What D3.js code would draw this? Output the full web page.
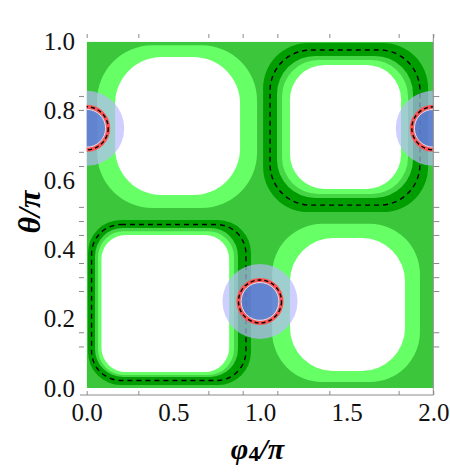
<!DOCTYPE html>
<html><head><meta charset="utf-8">
<script src="https://cdn.jsdelivr.net/npm/d3@7"></script>
<style>body{margin:0;background:#fff} svg{display:block}</style>
</head><body><svg id="c" width="450" height="474"></svg>
<script>
// ---- data (in axis units: x = phi4/pi, y = theta/pi) ----
const xTickValues = [0, 0.5, 1, 1.5, 2];
const yTickValues = [0, 0.2, 0.4, 0.6, 0.8, 1];
const xMinorTicks = [0, 0.298, 0.702, 0.9, 1.1, 1.4, 1.8, 2.0];
const yMinorTicks = [0.843, 0.803, 0.682, 0.641, 0.523, 0.482, 0.442, 0.361, 0.320, 0.280, 0.161, 0.120];

// contour regions: [x0, x1, y0, y1, corner radius (x units)]
const darkRegions  = [[0.0075, 0.948, 0.0087, 0.485, 0.19], [1.018, 1.970, 0.508, 0.996, 0.26]];
const midRegions   = [[0.048, 0.873, 0.032, 0.462, 0.16],   [1.098, 1.883, 0.549, 0.959, 0.22]];
const lightRegions = [[0.065, 0.850, 0.0375, 0.453, 0.15],  [1.127, 1.854, 0.560, 0.947, 0.21],
                      [0.060, 0.983, 0.520, 0.990, 0.32],   [1.070, 1.923, 0.017, 0.474, 0.29]];
const whiteRegions = [[0.085, 0.822, 0.046, 0.442, 0.14],   [1.173, 1.814, 0.575, 0.933, 0.20],
                      [0.164, 0.885, 0.557, 0.956, 0.27],   [1.173, 1.837, 0.049, 0.433, 0.25]];
const dashedContours = [[0.028, 0.919, 0.0217, 0.472, 0.17], [1.058, 1.923, 0.528, 0.976, 0.235]];
const circleCenters = [[0, 0.75], [1, 0.25], [2, 0.75]];
const haloRadius = 0.2164, ringRadius = 0.124, coreRadius = 0.112; // x units

// ---- scales ----
const x = d3.scaleLinear().domain([0, 2]).range([86.7, 433.3]);
const y = d3.scaleLinear().domain([0, 1]).range([388, 41.7]);
const px = r => x(r) - x(0);

const svg = d3.select("#c");
svg.append("defs").append("clipPath").attr("id", "plot")
  .append("rect").attr("x", x(0)).attr("y", y(1)).attr("width", x(2) - x(0)).attr("height", y(0) - y(1));

const g = svg.append("g").attr("clip-path", "url(#plot)");
g.append("rect").attr("x", x(0)).attr("y", y(1)).attr("width", x(2) - x(0)).attr("height", y(0) - y(1))
  .attr("fill", "#3cc63c");

function regions(data, fill) {
  g.append("g").selectAll("rect").data(data).join("rect")
    .attr("x", d => x(d[0])).attr("y", d => y(d[3]))
    .attr("width", d => x(d[1]) - x(d[0])).attr("height", d => y(d[2]) - y(d[3]))
    .attr("rx", d => px(d[4])).attr("ry", d => px(d[4]))
    .attr("fill", fill);
}
regions(darkRegions, "#009d00");
regions(midRegions, "#45d645");
regions(lightRegions, "#66ff66");
regions(whiteRegions, "#ffffff");

g.append("g").selectAll("rect").data(dashedContours).join("rect")
  .attr("x", d => x(d[0])).attr("y", d => y(d[3]))
  .attr("width", d => x(d[1]) - x(d[0])).attr("height", d => y(d[2]) - y(d[3]))
  .attr("rx", d => px(d[4])).attr("ry", d => px(d[4]))
  .attr("fill", "none").attr("stroke", "#000").attr("stroke-width", 1.4).attr("stroke-dasharray", "5,4");

const cg = g.append("g").selectAll("g").data(circleCenters).join("g")
  .attr("transform", d => `translate(${x(d[0])},${y(d[1])})`);
cg.append("circle").attr("r", px(haloRadius)).attr("fill", "rgb(184,184,255)").attr("fill-opacity", 0.68);
cg.append("circle").attr("r", px(coreRadius)).attr("fill", "rgb(70,96,216)").attr("fill-opacity", 0.62);
cg.append("circle").attr("r", px(ringRadius)).attr("fill", "none").attr("stroke", "#ff5252").attr("stroke-width", 4);
cg.append("circle").attr("r", px(ringRadius) - 2.6).attr("fill", "none").attr("stroke", "#ffd6d6").attr("stroke-width", 1);
cg.append("circle").attr("r", px(ringRadius)).attr("fill", "none").attr("stroke", "#000")
  .attr("stroke-width", 1.4).attr("stroke-dasharray", "4,3");

// ---- frame and ticks ----
const frameColor = "#8a8a8a";
function styleAxis(sel) {
  sel.select(".domain").remove();
  sel.selectAll(".tick line").attr("stroke", frameColor);
}
svg.append("g").attr("transform", "translate(0,395)")
  .call(d3.axisBottom(x).tickValues(xMinorTicks).tickSize(-4).tickFormat("")).call(styleAxis);
svg.append("g").attr("transform", "translate(0,34)")
  .call(d3.axisTop(x).tickValues(xMinorTicks).tickSize(-4).tickFormat("")).call(styleAxis);
svg.append("g").attr("transform", "translate(84,0)")
  .call(d3.axisLeft(y).tickValues(yMinorTicks).tickSize(5).tickFormat("")).call(styleAxis);
svg.append("g").attr("transform", "translate(433.3,0)")
  .call(d3.axisRight(y).tickValues(yMinorTicks).tickSize(6).tickFormat("")).call(styleAxis);
svg.append("line").attr("x1", 80).attr("x2", 433.3).attr("y1", 395).attr("y2", 395).attr("stroke", frameColor);
svg.append("line").attr("x1", 433.3).attr("x2", 433.3).attr("y1", 34).attr("y2", 395).attr("stroke", frameColor);

const font = "Liberation Serif";
function styleLabels(sel) {
  sel.attr("font-family", null).attr("font-size", null);
  sel.select(".domain").remove();
  sel.selectAll(".tick line").remove();
  sel.selectAll("text").attr("font-family", font).attr("font-size", 25).attr("fill", "#111");
}
svg.append("g").attr("transform", "translate(0,395)")
  .call(d3.axisBottom(x).tickValues(xTickValues).tickSize(0).tickPadding(8).tickFormat(d3.format(".1f")))
  .call(styleLabels);
svg.append("g").attr("transform", "translate(84,0)")
  .call(d3.axisLeft(y).tickValues(yTickValues).tickSize(0).tickPadding(9).tickFormat(d3.format(".1f")))
  .call(styleLabels);

// ---- axis titles ----
const xt = svg.append("text").attr("x", 257.5).attr("y", 459).attr("text-anchor", "middle")
  .attr("font-family", font).attr("font-size", 30).attr("font-weight", "bold").attr("font-style", "italic");
xt.append("tspan").text("φ");
xt.append("tspan").attr("font-size", 22).attr("font-style", "normal").attr("dy", 2).text("4");
xt.append("tspan").attr("dy", -2).text("/π");

svg.append("text").attr("transform", "translate(40,212) rotate(-90)").attr("text-anchor", "middle")
  .attr("font-family", font).attr("font-size", 32).attr("font-weight", "bold").attr("font-style", "italic")
  .text("θ/π");
</script></body></html>
